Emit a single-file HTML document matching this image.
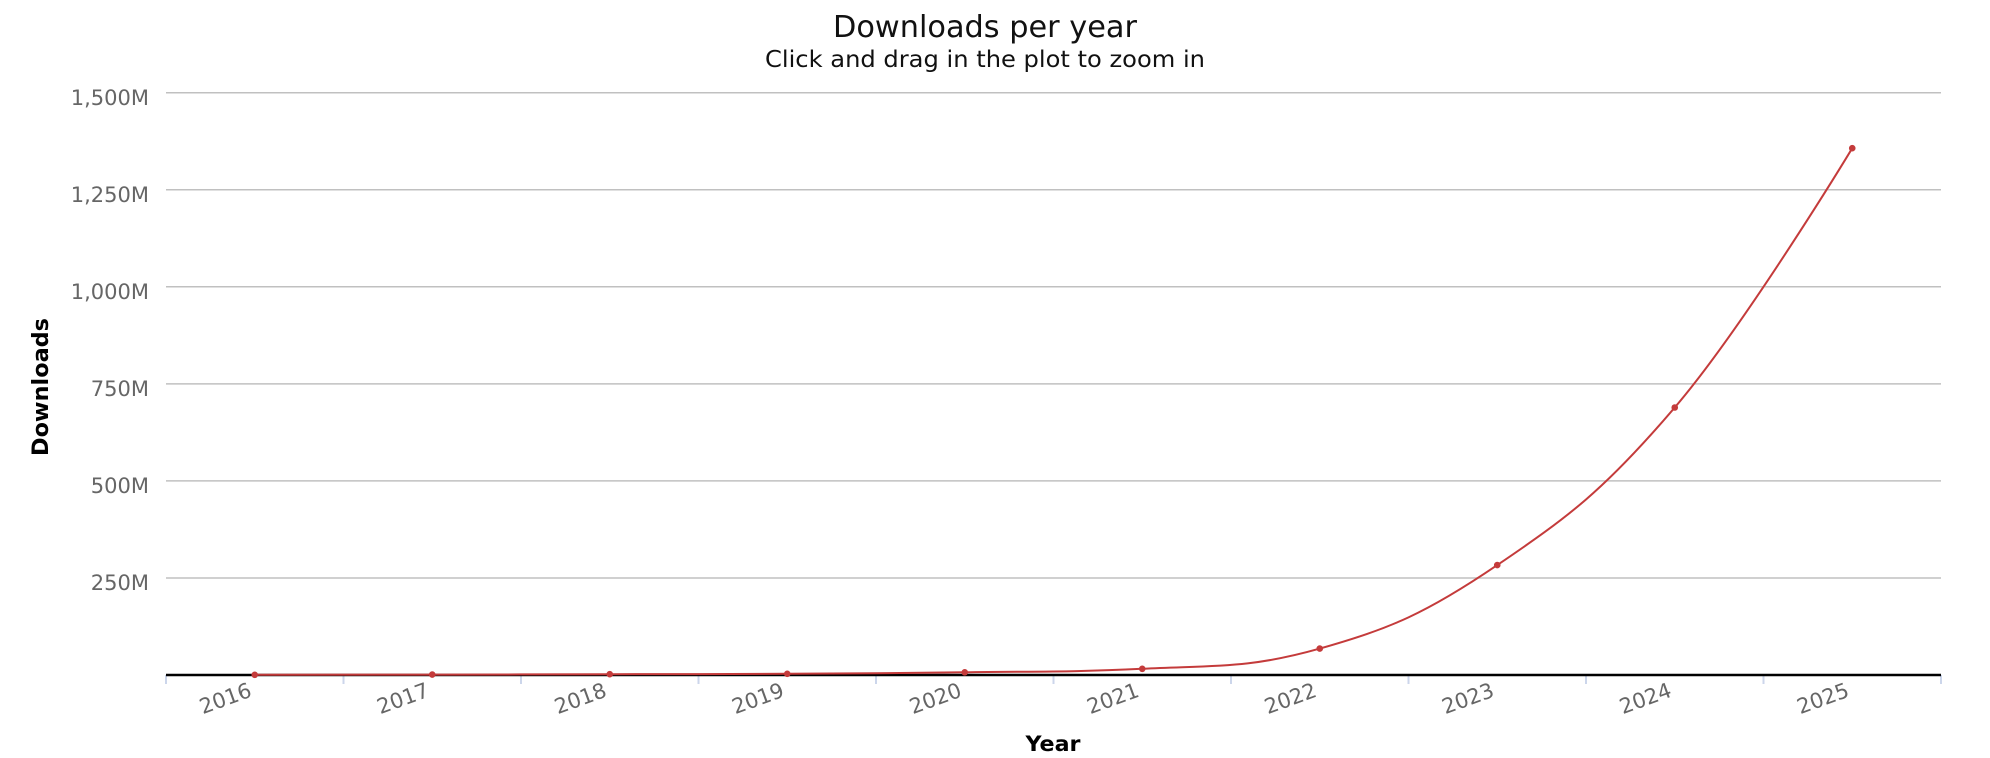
<!DOCTYPE html>
<html>
<head>
<meta charset="utf-8">
<style>
  html, body { margin: 0; padding: 0; background: #ffffff; }
  svg { display: block; }
  text { font-family: "DejaVu Sans", "Liberation Sans", sans-serif; }
</style>
</head>
<body>
<svg width="1990" height="758" viewBox="0 0 1990 758" xmlns="http://www.w3.org/2000/svg">
  <rect x="0" y="0" width="1990" height="758" fill="#ffffff"/>

  <!-- Title -->
  <text x="985" y="37" text-anchor="middle" font-size="30" fill="#111" textLength="304" lengthAdjust="spacingAndGlyphs">Downloads per year</text>
  <text x="985" y="67" text-anchor="middle" font-size="23" fill="#111" textLength="440" lengthAdjust="spacingAndGlyphs">Click and drag in the plot to zoom in</text>

  <!-- Gridlines -->
  <g stroke="#c0c0c0" stroke-width="1.5">
    <line x1="166" y1="92.7" x2="1941" y2="92.7"/>
    <line x1="166" y1="189.75" x2="1941" y2="189.75"/>
    <line x1="166" y1="286.8" x2="1941" y2="286.8"/>
    <line x1="166" y1="383.85" x2="1941" y2="383.85"/>
    <line x1="166" y1="480.9" x2="1941" y2="480.9"/>
    <line x1="166" y1="577.95" x2="1941" y2="577.95"/>
  </g>

  <!-- Y labels -->
  <g font-size="21" fill="#666" text-anchor="end">
    <text x="149" y="105">1,500M</text>
    <text x="149" y="202">1,250M</text>
    <text x="149" y="299">1,000M</text>
    <text x="149" y="396">750M</text>
    <text x="149" y="493">500M</text>
    <text x="149" y="590">250M</text>
  </g>

  <!-- X ticks -->
  <g stroke="#ccd6eb" stroke-width="2">
    <line x1="166" y1="675" x2="166" y2="684"/>
    <line x1="343.5" y1="675" x2="343.5" y2="684"/>
    <line x1="521" y1="675" x2="521" y2="684"/>
    <line x1="698.5" y1="675" x2="698.5" y2="684"/>
    <line x1="876" y1="675" x2="876" y2="684"/>
    <line x1="1053.5" y1="675" x2="1053.5" y2="684"/>
    <line x1="1231" y1="675" x2="1231" y2="684"/>
    <line x1="1408.5" y1="675" x2="1408.5" y2="684"/>
    <line x1="1586" y1="675" x2="1586" y2="684"/>
    <line x1="1763.5" y1="675" x2="1763.5" y2="684"/>
    <line x1="1941" y1="675" x2="1941" y2="684"/>
  </g>

  <!-- Axis line -->
  <line x1="166" y1="675" x2="1941" y2="675" stroke="#000" stroke-width="2.4"/>

  <!-- X labels -->
  <g font-size="21" fill="#666" text-anchor="end">
    <text transform="translate(253,696) rotate(-20)">2016</text>
    <text transform="translate(430.5,696) rotate(-20)">2017</text>
    <text transform="translate(608,696) rotate(-20)">2018</text>
    <text transform="translate(785.5,696) rotate(-20)">2019</text>
    <text transform="translate(963,696) rotate(-20)">2020</text>
    <text transform="translate(1140.5,696) rotate(-20)">2021</text>
    <text transform="translate(1318,696) rotate(-20)">2022</text>
    <text transform="translate(1495.5,696) rotate(-20)">2023</text>
    <text transform="translate(1673,696) rotate(-20)">2024</text>
    <text transform="translate(1850.5,696) rotate(-20)">2025</text>
  </g>

  <!-- Axis titles -->
  <text x="1053" y="751" text-anchor="middle" font-size="21" font-weight="bold" fill="#000" textLength="55" lengthAdjust="spacingAndGlyphs">Year</text>
  <text transform="translate(48,387) rotate(-90)" text-anchor="middle" font-size="22" font-weight="bold" fill="#000" textLength="138" lengthAdjust="spacingAndGlyphs">Downloads</text>

  <!-- Series -->
  <path fill="none" stroke="#c43b3b" stroke-width="2" stroke-linejoin="round" stroke-linecap="round"
    d="M 254.75 674.8
       C 254.75 674.8, 361.25 674.72, 432.25 674.6
       C 503.25 674.48, 538.75 674.36, 609.75 674.2
       C 680.75 674.04, 716.25 674.18, 787.25 673.8
       C 858.25 673.42, 893.75 673.3, 964.75 672.3
       C 1035.75 671.3, 1071.25 672.3, 1142.25 668.8
       C 1213.25 665.3, 1248.75 668.8, 1319.75 648.6
       C 1390.75 628.4, 1426.25 613.32, 1497.25 565.1
       C 1568.25 516.88, 1603.75 490.88, 1674.75 407.5
       C 1745.75 324.12, 1852.25 148.2, 1852.25 148.2"/>

  <!-- Markers -->
  <g fill="#c43b3b">
    <circle cx="254.75" cy="674.8" r="3.3"/>
    <circle cx="432.25" cy="674.6" r="3.3"/>
    <circle cx="609.75" cy="674.2" r="3.3"/>
    <circle cx="787.25" cy="673.8" r="3.3"/>
    <circle cx="964.75" cy="672.3" r="3.3"/>
    <circle cx="1142.25" cy="668.8" r="3.3"/>
    <circle cx="1319.75" cy="648.6" r="3.3"/>
    <circle cx="1497.25" cy="565.1" r="3.3"/>
    <circle cx="1674.75" cy="407.5" r="3.3"/>
    <circle cx="1852.25" cy="148.2" r="3.3"/>
  </g>
</svg>
</body>
</html>
